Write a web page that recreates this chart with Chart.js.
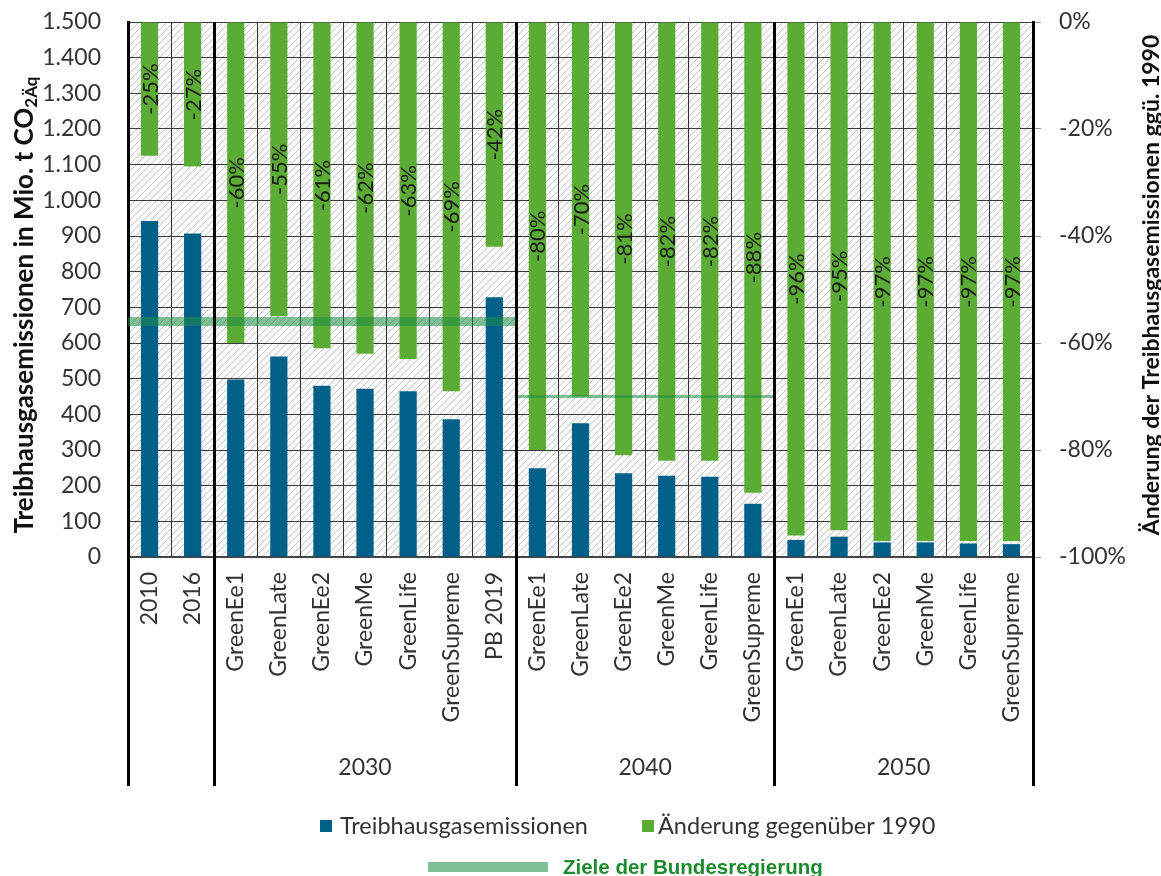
<!DOCTYPE html>
<html><head><meta charset="utf-8">
<script src="https://cdn.jsdelivr.net/npm/chart.js@4/dist/chart.umd.min.js"></script>
<style>html,body{margin:0;padding:0;background:#fff;}#wrap{width:1161px;height:876px;}</style>
</head><body><div id="wrap"><canvas id="c" width="1161" height="876"></canvas></div>
<script>
const categories = ['2010','2016','GreenEe1','GreenLate','GreenEe2','GreenMe','GreenLife','GreenSupreme','PB 2019','GreenEe1','GreenLate','GreenEe2','GreenMe','GreenLife','GreenSupreme','GreenEe1','GreenLate','GreenEe2','GreenMe','GreenLife','GreenSupreme'];
const groupLabels = ['', '2030', '2040', '2050'];
const groupStarts = [0, 2, 9, 15];
const groupEnds = [1, 8, 14, 20];
const emissions = [942, 907, 498, 562, 480, 472, 465, 386, 728, 249, 375, 235, 228, 225, 149, 48, 57, 41, 41, 38, 36];
const changeVs1990 = [-25, -27, -60, -55, -61, -62, -63, -69, -42, -80, -70, -81, -82, -82, -88, -96, -95, -97, -97, -97, -97];
const targetValues = [660, 450];
const targetFrom = [0, 9];
const targetTo = [8, 14];
const seriesNames = ['Treibhausgasemissionen', 'Änderung gegenüber 1990'];
const targetName = 'Ziele der Bundesregierung';
const leftTitle = 'Treibhausgasemissionen in Mio. t CO';
const leftTitleSub = '2Äq';
const rightTitle = 'Änderung der Treibhausgasemissionen ggü. 1990';

const FONT = 'Lato';
const BLUE = '#006088';
const GREEN = '#5bac35';
const TARGET = 'rgba(30,140,70,0.56)';
const TXT = '#333';

function hatch() {
  const c = document.createElement('canvas');
  c.width = 7; c.height = 7;
  const g = c.getContext('2d');
  g.strokeStyle = '#c2c2c2'; g.lineWidth = 1;
  g.beginPath();
  g.moveTo(-1, 8); g.lineTo(8, -1);
  g.moveTo(-1, 1); g.lineTo(1, -1);
  g.moveTo(6, 8); g.lineTo(8, 6);
  g.stroke();
  return c;
}

const custom = {
  id: 'custom',
  beforeDraw(chart) {
    const {ctx, chartArea: a} = chart;
    ctx.save();
    ctx.fillStyle = ctx.createPattern(hatch(), 'repeat');
    ctx.fillRect(a.left, a.top, a.right - a.left, a.bottom - a.top);
    ctx.restore();
  },
  afterDatasetsDraw(chart) {
    const {ctx, scales} = chart;
    const x = scales.x, y = scales.y;
    const half = (x.getPixelForValue(1) - x.getPixelForValue(0)) / 2;
    ctx.save();
    ctx.strokeStyle = TARGET;
    targetValues.forEach((v, i) => {
      ctx.lineWidth = i === 0 ? 9 : 3;
      const py = y.getPixelForValue(v);
      ctx.beginPath();
      ctx.moveTo(x.getPixelForValue(targetFrom[i]) - half, py);
      ctx.lineTo(x.getPixelForValue(targetTo[i]) + half, py);
      ctx.stroke();
    });
    ctx.restore();
    const meta = chart.getDatasetMeta(1);
    ctx.save();
    ctx.fillStyle = '#1a1a1a';
    ctx.font = '22px ' + FONT;
    ctx.textAlign = 'center';
    ctx.textBaseline = 'middle';
    meta.data.forEach((el, i) => {
      const yc = (el.y + el.base) / 2;
      ctx.save();
      ctx.translate(el.x, yc);
      ctx.rotate(-Math.PI / 2);
      ctx.fillText(changeVs1990[i] + '%', 0, 1);
      ctx.restore();
    });
    ctx.restore();
  },
  afterDraw(chart) {
    const {ctx, chartArea: a, scales} = chart;
    const x = scales.x;
    const half = (x.getPixelForValue(1) - x.getPixelForValue(0)) / 2;
    ctx.save();
    ctx.strokeStyle = '#000';
    ctx.lineWidth = 3;
    const bounds = groupStarts.map(i => x.getPixelForValue(i) - half);
    bounds.push(x.getPixelForValue(categories.length - 1) + half);
    bounds.forEach((px, k) => {
      const inside = k > 0 && k < bounds.length - 1;
      ctx.beginPath();
      ctx.moveTo(Math.round(px) + 0.5, inside ? a.top : a.bottom);
      ctx.lineTo(Math.round(px) + 0.5, 786);
      ctx.stroke();
    });
    ctx.fillStyle = TXT;
    ctx.font = '23px ' + FONT;
    ctx.textAlign = 'center';
    ctx.textBaseline = 'middle';
    groupLabels.forEach((g, i) => {
      if (!g) return;
      const cx = (x.getPixelForValue(groupStarts[i]) + x.getPixelForValue(groupEnds[i])) / 2;
      ctx.fillText(g, cx, 768);
    });
    // left title
    ctx.fillStyle = '#111';
    ctx.save();
    ctx.translate(25, 305);
    ctx.rotate(-Math.PI / 2);
    ctx.font = 'bold 26px ' + FONT;
    const w1 = ctx.measureText(leftTitle).width;
    ctx.font = 'bold 17px ' + FONT;
    const w2 = ctx.measureText(leftTitleSub).width;
    const start = -(w1 + w2) / 2;
    ctx.textAlign = 'left';
    ctx.font = 'bold 26px ' + FONT;
    ctx.fillText(leftTitle, start, 0);
    ctx.font = 'bold 17px ' + FONT;
    ctx.fillText(leftTitleSub, start + w1, 7);
    ctx.restore();
    // right title
    ctx.save();
    ctx.translate(1152, 285);
    ctx.rotate(-Math.PI / 2);
    ctx.font = 'bold 23px ' + FONT;
    ctx.textAlign = 'center';
    ctx.fillText(rightTitle, 0, 0);
    ctx.restore();
    // legend row 1
    ctx.font = '23.5px ' + FONT;
    ctx.textAlign = 'left';
    ctx.fillStyle = BLUE; ctx.fillRect(320, 820, 12, 12);
    ctx.fillStyle = TXT; ctx.fillText(seriesNames[0], 340, 826);
    ctx.fillStyle = GREEN; ctx.fillRect(642, 820, 12, 12);
    ctx.fillStyle = TXT; ctx.fillText(seriesNames[1], 658, 826);
    // legend row 2
    ctx.strokeStyle = TARGET; ctx.lineWidth = 10;
    ctx.beginPath(); ctx.moveTo(428, 867); ctx.lineTo(548, 867); ctx.stroke();
    ctx.fillStyle = '#1e8a2e';
    ctx.textBaseline = 'alphabetic';
    ctx.font = 'bold 20.5px "Liberation Sans"';
    ctx.fillText(targetName, 563, 874);
    ctx.restore();
  }
};

function fitY(s) { s.width = 128; s.paddingTop = 0; s.paddingBottom = 0; }

new Chart(document.getElementById('c'), {
  type: 'bar',
  data: {
    labels: categories,
    datasets: [
      { label: seriesNames[0], data: emissions, yAxisID: 'y', backgroundColor: BLUE, grouped: false, barPercentage: 0.4, categoryPercentage: 1 },
      { label: seriesNames[1], data: changeVs1990, yAxisID: 'y2', backgroundColor: GREEN, grouped: false, barPercentage: 0.4, categoryPercentage: 1 }
    ]
  },
  options: {
    responsive: false,
    animation: false,
    devicePixelRatio: 1,
    layout: { padding: { top: 22, left: 0, right: 0, bottom: 0 } },
    plugins: { legend: { display: false }, tooltip: { enabled: false } },
    scales: {
      x: {
        grid: { offset: true, color: '#333', lineWidth: 1, drawTicks: false },
        border: { display: true, color: '#444', width: 2 },
        ticks: { autoSkip: false, minRotation: 90, maxRotation: 90, padding: 15, color: TXT, font: { family: FONT, size: 23 } },
        afterFit(s) { s.height = 319; s.paddingLeft = 0; s.paddingRight = 0; s.paddingTop = 0; s.paddingBottom = 0; }
      },
      y: {
        position: 'left', min: 0, max: 1500,
        grid: { color: '#3a3a3a', lineWidth: 1, drawTicks: false },
        border: { display: true, color: '#000', width: 3 },
        ticks: { stepSize: 100, padding: 27, color: TXT, font: { family: FONT, size: 23 },
          callback: v => String(v).replace(/\B(?=(\d{3})+(?!\d))/g, '.') },
        afterFit: fitY
      },
      y2: {
        position: 'right', min: -100, max: 0,
        grid: { drawOnChartArea: false, drawTicks: true, tickLength: 8, color: '#999' },
        border: { display: true, color: '#000', width: 3 },
        ticks: { stepSize: 20, padding: 18, color: TXT, font: { family: FONT, size: 23 }, callback: v => v + '%' },
        afterFit: fitY
      }
    }
  },
  plugins: [custom]
});
</script></body></html>
